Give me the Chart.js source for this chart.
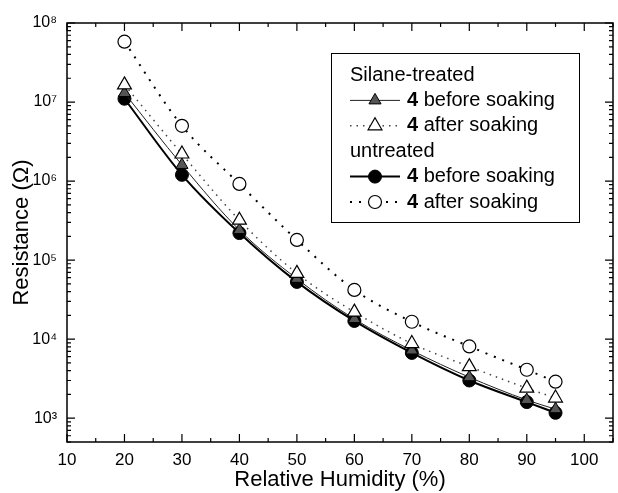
<!DOCTYPE html>
<html>
<head>
<meta charset="utf-8">
<script src="https://cdn.jsdelivr.net/npm/chart.js@4.4.1/dist/chart.umd.min.js"></script>
<style>
  html, body { margin: 0; padding: 0; background: #fff; }
  #wrap { width: 618px; height: 493px; }
</style>
</head>
<body>
<div id="wrap"><canvas id="myChart" width="618" height="493"></canvas></div>
<script>
'use strict';

// relative humidity (%)
const humidity = [20, 30, 40, 50, 60, 70, 80, 90, 95];

// resistance (ohm)
const silaneBefore = [1.3e7, 1.6e6, 2.4e5, 5.8e4, 1.8e4, 7.2e3, 3.3e3, 1.7e3, 1.3e3];
const silaneAfter = [1.65e7, 2.2e6, 3.2e5, 6.8e4, 2.2e4, 8.8e3, 4.5e3, 2.4e3, 1.8e3];
const untreatedBefore = [1.1e7, 1.2e6, 2.2e5, 5.3e4, 1.7e4, 6.7e3, 3.0e3, 1.6e3, 1.17e3];
const untreatedAfter = [5.8e7, 5.0e6, 9.2e5, 1.8e5, 4.2e4, 1.66e4, 8.1e3, 4.1e3, 2.9e3];

// tick labels
const xTickValues = [10, 20, 30, 40, 50, 60, 70, 80, 90, 100];
const xTickLabels = ['10', '20', '30', '40', '50', '60', '70', '80', '90', '100'];
const yMajorTicks = [1e3, 1e4, 1e5, 1e6, 1e7, 1e8];
const yTickLabels = ['10³', '10⁴', '10⁵', '10⁶', '10⁷', '10⁸'];

const FONT = '"Liberation Sans", Arial, Helvetica, sans-serif';

function toPoints(values) {
  return humidity.map((h, i) => ({ x: h, y: values[i] }));
}

let datasets = [
  {
    label: 'untreated after',
    data: toPoints(untreatedAfter),
    borderColor: '#000',
    borderWidth: 2,
    borderDash: [2, 7],
    pointStyle: 'circle',
    pointRadius: 6.5,
    pointBorderWidth: 1.2,
    pointBackgroundColor: '#fff',
    pointBorderColor: '#000'
  },
  {
    label: 'silane after',
    data: toPoints(silaneAfter),
    borderColor: '#444',
    borderWidth: 1.5,
    borderDash: [1.5, 5],
    pointStyle: 'triangle',
    pointRadius: 8,
    pointBorderWidth: 1.2,
    pointBackgroundColor: '#fff',
    pointBorderColor: '#000'
  },
  {
    label: 'silane before',
    data: toPoints(silaneBefore),
    borderColor: '#222',
    borderWidth: 1,
    pointStyle: 'triangle',
    pointRadius: 7,
    pointBorderWidth: 1,
    pointBackgroundColor: '#555',
    pointBorderColor: '#000'
  },
  {
    label: 'untreated before',
    data: toPoints(untreatedBefore),
    borderColor: '#000',
    borderWidth: 2,
    pointStyle: 'circle',
    pointRadius: 6.5,
    pointBorderWidth: 1,
    pointBackgroundColor: '#000',
    pointBorderColor: '#000'
  }
];

// legend layout (headers + entries)
const legendBox = { left: 331, top: 53, right: 579, bottom: 222, rowTop: 75, rowStep: 25.4 };
const legendRows = [
  { header: 'Silane-treated' },
  { ds: 'silane before', text: ' before soaking' },
  { ds: 'silane after', text: ' after soaking' },
  { header: 'untreated' },
  { ds: 'untreated before', text: ' before soaking' },
  { ds: 'untreated after', text: ' after soaking' }
];

function drawMarker(ctx, style, x, y, r) {
  ctx.beginPath();
  if (style === 'triangle') {
    let half = r * Math.sqrt(3) / 2;
    ctx.moveTo(x, y - r);
    ctx.lineTo(x + half, y + r / 2);
    ctx.lineTo(x - half, y + r / 2);
    ctx.closePath();
  } else {
    ctx.arc(x, y, r, 0, Math.PI * 2);
  }
}

const frameTicks = {
  id: 'frameTicks',
  afterDatasetsDraw(chart) {
    let { ctx, chartArea: a, scales } = chart;
    ctx.save();
    ctx.strokeStyle = '#000';
    ctx.lineWidth = 1.5;
    ctx.strokeRect(a.left, a.top, a.right - a.left, a.bottom - a.top);
    ctx.lineWidth = 1.2;
    ctx.beginPath();
    scales.x.ticks.forEach(t => {
      let px = scales.x.getPixelForValue(t.value);
      let len = t.value % 10 === 0 ? 8 : 4;
      ctx.moveTo(px, a.bottom);
      ctx.lineTo(px, a.bottom - len);
      ctx.moveTo(px, a.top);
      ctx.lineTo(px, a.top + len);
    });
    scales.y.ticks.forEach(t => {
      let py = scales.y.getPixelForValue(t.value);
      let len = yMajorTicks.includes(t.value) ? 8 : 4;
      ctx.moveTo(a.left, py);
      ctx.lineTo(a.left + len, py);
      ctx.moveTo(a.right, py);
      ctx.lineTo(a.right - len, py);
    });
    ctx.stroke();
    ctx.restore();
  }
};

const headerLegend = {
  id: 'headerLegend',
  afterDraw(chart) {
    let ctx = chart.ctx;
    let b = legendBox;
    ctx.save();
    ctx.fillStyle = '#fff';
    ctx.fillRect(b.left, b.top, b.right - b.left, b.bottom - b.top);
    ctx.strokeStyle = '#000';
    ctx.lineWidth = 1;
    ctx.strokeRect(b.left + 0.5, b.top + 0.5, b.right - b.left, b.bottom - b.top);
    ctx.textBaseline = 'middle';
    ctx.fillStyle = '#000';
    legendRows.forEach((row, i) => {
      let y = b.rowTop + i * b.rowStep;
      let x0 = b.left + 19;
      if (row.header) {
        ctx.font = '20px ' + FONT;
        ctx.fillText(row.header, x0, y);
        return;
      }
      let ds = chart.data.datasets.find(d => d.label === row.ds);
      ctx.save();
      ctx.strokeStyle = ds.borderColor;
      ctx.lineWidth = ds.borderWidth;
      ctx.setLineDash(ds.borderDash || []);
      ctx.beginPath();
      ctx.moveTo(x0, y);
      ctx.lineTo(x0 + 50, y);
      ctx.stroke();
      ctx.setLineDash([]);
      drawMarker(ctx, ds.pointStyle, x0 + 25, y, ds.pointRadius);
      ctx.fillStyle = ds.pointBackgroundColor;
      ctx.fill();
      ctx.lineWidth = ds.pointBorderWidth;
      ctx.strokeStyle = ds.pointBorderColor;
      ctx.stroke();
      ctx.restore();
      ctx.font = 'bold 20px ' + FONT;
      ctx.fillText('4', x0 + 57, y);
      let w = ctx.measureText('4').width;
      ctx.font = '20px ' + FONT;
      ctx.fillText(row.text, x0 + 57 + w, y);
    });
    ctx.restore();
  }
};

let ctx = document.getElementById('myChart').getContext('2d');
let myChart = new Chart(ctx, {
  type: 'line',
  data: { datasets: datasets },
  options: {
    responsive: false,
    animation: false,
    layout: { autoPadding: false, padding: { top: 23, right: 5, left: 0, bottom: 0 } },
    elements: {
      line: { cubicInterpolationMode: 'monotone', fill: false }
    },
    plugins: {
      legend: { display: false },
      tooltip: { enabled: false }
    },
    scales: {
      x: {
        type: 'linear',
        min: 10,
        max: 105,
        afterFit(scale) {
          scale.height = 51;
          scale.paddingLeft = 0;
          scale.paddingRight = 0;
        },
        grid: { display: false, drawTicks: false },
        border: { display: false },
        ticks: {
          stepSize: 5,
          autoSkip: false,
          maxRotation: 0,
          padding: 8,
          color: '#000',
          font: { family: FONT, size: 17 },
          callback(value) {
            let i = xTickValues.indexOf(value);
            return i >= 0 ? xTickLabels[i] : '';
          }
        },
        title: {
          display: true,
          text: 'Relative Humidity (%)',
          color: '#000',
          font: { family: FONT, size: 22 },
          padding: { top: 0, bottom: 0 }
        }
      },
      y: {
        type: 'logarithmic',
        min: 500,
        max: 1e8,
        afterFit(scale) { scale.width = 67; },
        afterBuildTicks(scale) {
          let ticks = [];
          for (let d = 100; d <= 1e7; d *= 10) {
            for (let m = 1; m <= 9; m++) {
              let v = m * d;
              if (v >= 500) ticks.push({ value: v });
            }
          }
          ticks.push({ value: 1e8 });
          scale.ticks = ticks;
        },
        grid: { display: false, drawTicks: false },
        border: { display: false },
        ticks: {
          autoSkip: false,
          padding: 10,
          color: '#000',
          font: { family: FONT, size: 16 },
          callback(value) {
            let i = yMajorTicks.indexOf(value);
            return i >= 0 ? yTickLabels[i] : '';
          }
        },
        title: {
          display: true,
          text: 'Resistance (Ω)',
          color: '#000',
          font: { family: FONT, size: 22 },
          padding: { top: 9, bottom: 0 }
        }
      }
    }
  },
  plugins: [frameTicks, headerLegend]
});
</script>
</body>
</html>
